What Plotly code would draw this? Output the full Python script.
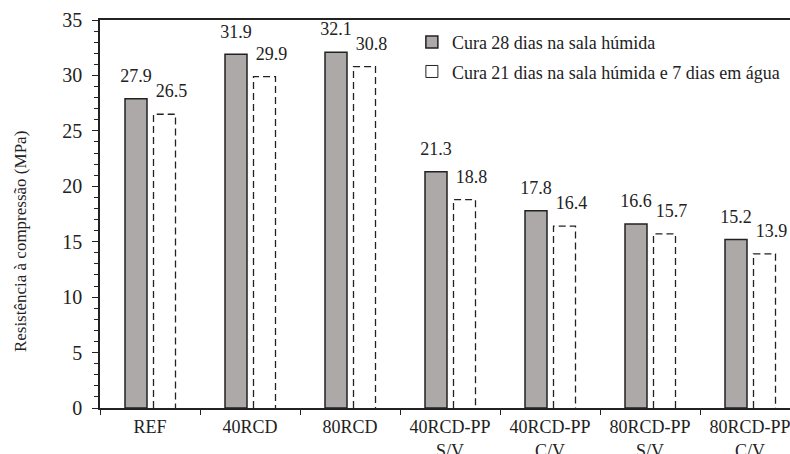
import plotly.graph_objects as go

categories = ["REF", "40RCD", "80RCD", "40RCD-PP<br>S/V", "40RCD-PP<br>C/V", "80RCD-PP<br>S/V", "80RCD-PP<br>C/V"]
cura28 = [27.9, 31.9, 32.1, 21.3, 17.8, 16.6, 15.2]
cura21_7 = [26.5, 29.9, 30.8, 18.8, 16.4, 15.7, 13.9]
name28 = "Cura 28 dias na sala húmida"
name21 = "Cura 21 dias na sala húmida e 7 dias em água"
y_title = "Resistência à compressão (MPa)"

FONT = "Liberation Serif"
INK = "#222222"
W = 0.22
OFF1 = -0.25
OFF2 = 0.035
LBL_SHIFT2 = 0.07
xs = list(range(len(categories)))

fig = go.Figure()
fig.add_trace(go.Bar(
    x=xs, y=cura28, width=W, offset=OFF1, name=name28, legendgroup="a",
    marker=dict(color="#ADA9A8", line=dict(color=INK, width=1.5)),
    hovertemplate="%{y:.1f}<extra></extra>",
))
# dashed outline of the second series, built from its values
ox, oy = [], []
for i, v in zip(xs, cura21_7):
    xl = i + OFF2
    xr = xl + W
    ox += [xl, xl, xr, xr, None]
    oy += [0, v, v, 0, None]
fig.add_trace(go.Scatter(
    x=ox, y=oy, mode="lines", showlegend=False, hoverinfo="skip",
    line=dict(color=INK, width=1.3, dash="7px,4px"),
))
# value labels (transparent markers push the text above the bar tops)
fig.add_trace(go.Scatter(
    x=[i + OFF1 + W / 2 for i in xs], y=cura28, mode="markers+text",
    text=[f"{v:.1f}" for v in cura28], textposition="top center",
    textfont=dict(family=FONT, size=18, color=INK),
    marker=dict(size=18, color="rgba(0,0,0,0)"),
    showlegend=False, hoverinfo="skip", cliponaxis=False,
))
fig.add_trace(go.Scatter(
    x=[i + OFF2 + W / 2 + LBL_SHIFT2 for i in xs], y=cura21_7, mode="markers+text",
    text=[f"{v:.1f}" for v in cura21_7], textposition="top center",
    textfont=dict(family=FONT, size=18, color=INK),
    marker=dict(size=18, color="rgba(0,0,0,0)"),
    showlegend=False, hoverinfo="skip", cliponaxis=False,
))
# legend entry for the dashed series
fig.add_trace(go.Bar(
    x=[None], y=[None], name=name21, legendgroup="b",
    marker=dict(color="white", line=dict(color=INK, width=1)),
))

fig.update_layout(
    width=790, height=454,
    margin=dict(l=100, r=0, t=20, b=46),
    plot_bgcolor="white", paper_bgcolor="white",
    font=dict(family=FONT, size=18, color=INK),
    barmode="overlay",
    showlegend=True,
    legend=dict(x=0.452, y=0.99, xanchor="left", yanchor="top",
                font=dict(family=FONT, size=18, color=INK),
                bgcolor="rgba(0,0,0,0)", tracegroupgap=3, itemwidth=30),
    annotations=[dict(
        text=y_title, textangle=-90, xref="paper", yref="paper",
        x=-0.116, y=0.43, xanchor="center", yanchor="middle", showarrow=False,
        font=dict(family=FONT, size=17, color=INK),
    )],
)
fig.update_xaxes(
    range=[-0.5, 6.4], tickvals=xs, ticktext=categories, ticks="",
    showline=True, linecolor=INK, linewidth=1.5, mirror=True,
    showgrid=False, zeroline=False, automargin=False,
    ticklabeloverflow="allow",
    minor=dict(tick0=0.5, dtick=1, ticks="outside", ticklen=5, tickcolor=INK, showgrid=False),
    tickfont=dict(family=FONT, size=18, color=INK),
    ticklabelstandoff=2,
)
fig.update_yaxes(
    range=[0, 35], dtick=5, ticks="outside", ticklen=6, tickcolor=INK,
    showline=True, linecolor=INK, linewidth=1.5,
    showgrid=False, zeroline=False, automargin=False,
    minor=dict(dtick=1, ticks="outside", ticklen=4, tickcolor=INK, showgrid=False),
    tickfont=dict(family=FONT, size=20, color=INK),
    ticklabelstandoff=6,
)

fig.write_html(
    "out.html",
    config={"displayModeBar": False},
    post_script="document.body.style.margin='0';document.body.style.overflow='hidden';",
)
